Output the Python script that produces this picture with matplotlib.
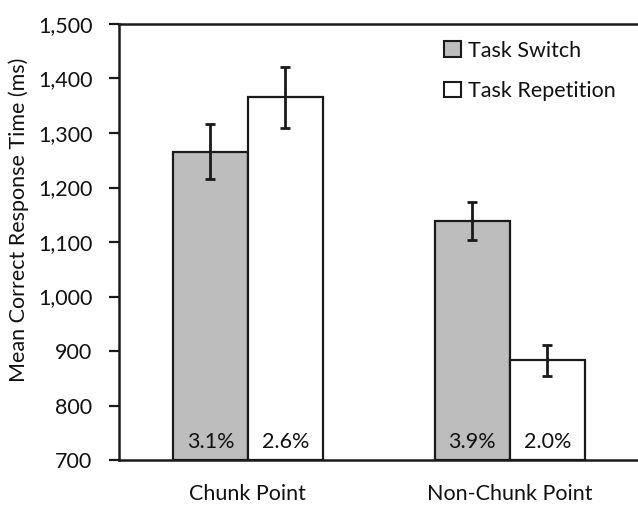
import matplotlib
matplotlib.use("Agg")
import matplotlib.pyplot as plt
import numpy as np

categories = ["Chunk Point", "Non-Chunk Point"]
series_names = ["Task Switch", "Task Repetition"]
switch_means = [1266, 1138]
switch_err = [51, 35]
rep_means = [1366, 883]
rep_err = [56, 28]
switch_err_pct = ["3.1%", "3.9%"]
rep_err_pct = ["2.6%", "2.0%"]
yticks = [700, 800, 900, 1000, 1100, 1200, 1300, 1400, 1500]

plt.rcParams['font.family'] = ['Lato', 'DejaVu Sans']
FS = 15.5
tc = "#111111"
edge = "#1a1a1a"

fig = plt.figure(figsize=(6.38, 5.05), dpi=100)
ax = fig.add_axes([0.1865, 0.089, 0.8335, 0.8635])

x = np.arange(len(categories))
w = 0.286
ekw = dict(elinewidth=2, capthick=2, ecolor=edge)
ax.bar(x - w/2, np.array(switch_means) - 700, w, bottom=700, color="#bdbdbd",
       edgecolor=edge, linewidth=1.6, label=series_names[0])
ax.bar(x + w/2, np.array(rep_means) - 700, w, bottom=700, color="white",
       edgecolor=edge, linewidth=1.6, label=series_names[1])
ax.errorbar(x - w/2, switch_means, yerr=switch_err, fmt="none", capsize=3.5, **ekw)
ax.errorbar(x + w/2, rep_means, yerr=rep_err, fmt="none", capsize=3.5, **ekw)

for i in range(len(categories)):
    ax.text(x[i] - w/2, 733, switch_err_pct[i], ha="center", va="center", fontsize=FS, color=tc)
    ax.text(x[i] + w/2, 733, rep_err_pct[i], ha="center", va="center", fontsize=FS, color=tc)

ax.set_xlim(-0.492, 1.538)
ax.set_ylim(700, 1500)
ax.set_yticks(yticks)
ax.set_yticklabels([f"{v:,}" for v in yticks], fontsize=FS, color=tc)
ax.set_xticks(x)
ax.set_xticklabels(categories, fontsize=FS, color=tc)
ax.tick_params(axis="x", length=0, pad=17)
ax.tick_params(axis="y", direction="out", length=7, width=1.6, color=edge, pad=12)
for s in ["left", "bottom", "top"]:
    ax.spines[s].set_linewidth(1.8)
    ax.spines[s].set_color(edge)
ax.spines["right"].set_visible(False)
ax.set_ylabel("Mean Correct Response Time (ms)", fontsize=FS, color=tc)
ax.yaxis.set_label_coords(-0.17, 0.55)

leg = ax.legend(loc="upper left", bbox_to_anchor=(0.612, 0.962), frameon=False,
                fontsize=FS, handlelength=0.75, handleheight=0.75, handletextpad=0.35,
                labelspacing=0.95, borderaxespad=0, borderpad=0)
for p in leg.get_patches():
    p.set_linewidth(1.5)
for t in leg.get_texts():
    t.set_color(tc)

fig.savefig("out.png", dpi=100)
